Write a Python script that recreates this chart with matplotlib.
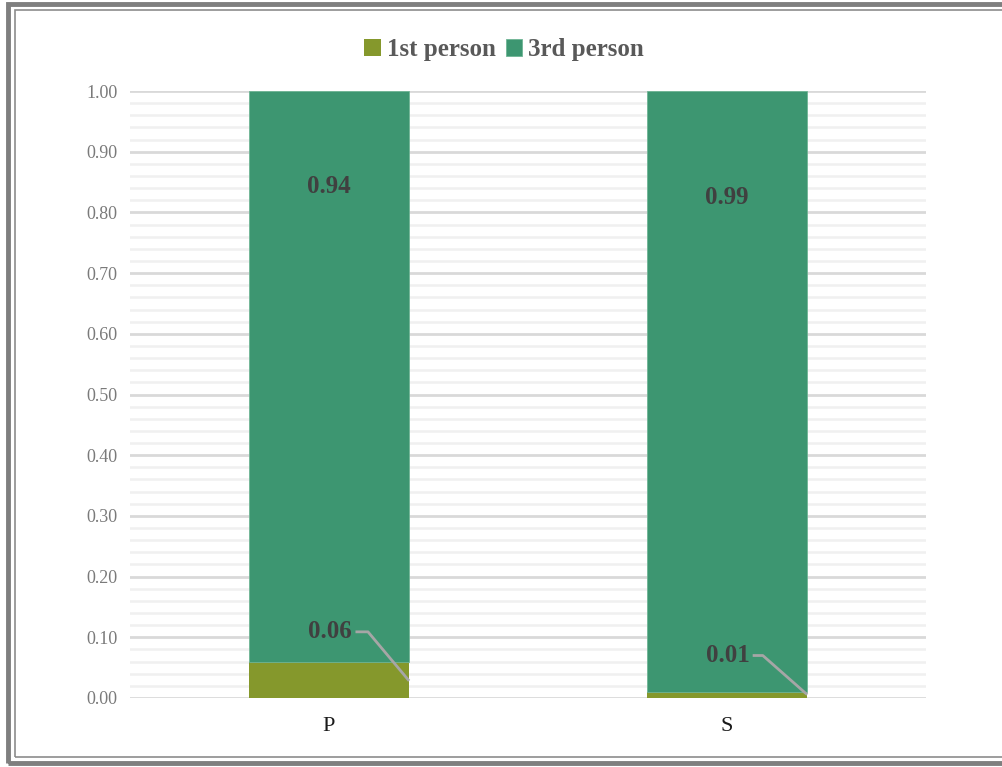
import numpy as np
import matplotlib.pyplot as plt
from matplotlib.patches import Rectangle

# Data
categories = ['P', 'S']
first_person = [0.06, 0.01]
third_person = [0.94, 0.99]
series_names = ['1st person', '3rd person']
colors = ['#85982c', '#3d9671']

plt.rcParams['font.family'] = ['Liberation Serif', 'DejaVu Serif']

fig = plt.figure(figsize=(10.02, 7.67), dpi=100)
fig.patch.set_facecolor('white')

# double grey frame around the chart area
fig.patches.append(Rectangle((8 / 1002, 4 / 767), 1.2, 759 / 767, transform=fig.transFigure,
                             fill=False, edgecolor='#7f7f7f', linewidth=3.5))
fig.patches.append(Rectangle((15 / 1002, 10 / 767), 1.2, 747 / 767, transform=fig.transFigure,
                             fill=False, edgecolor='#8c8c8c', linewidth=1.2))

ax = fig.add_axes([130 / 1002, 1 - 698 / 767, 796 / 1002, 607 / 767])
x = np.arange(len(categories))
width = 0.4
ax.bar(x, first_person, width, color=colors[0], label=series_names[0], zorder=3)
ax.bar(x, third_person, width, bottom=first_person, color=colors[1], label=series_names[1],
       edgecolor='#6fb595', linewidth=0.6, zorder=3)

ax.set_xlim(-0.5, 1.5)
ax.set_ylim(0, 1.0)
ax.set_yticks(np.arange(0, 1.01, 0.1))
ax.set_yticklabels([f'{v:.2f}' for v in np.arange(0, 1.01, 0.1)], fontsize=13, color='#7a7a7a')
ax.set_yticks(np.arange(0, 1.001, 0.02), minor=True)
ax.tick_params(axis='y', which='both', length=0, pad=9)
ax.set_xticks(x)
ax.set_xticklabels(categories, fontsize=16, color='#1a1a1a')
ax.tick_params(axis='x', length=0, pad=14)
ax.grid(axis='y', which='minor', color='#f0f0f0', linewidth=1.8, zorder=0)
ax.grid(axis='y', which='major', color='#d9d9d9', linewidth=2, zorder=1)
for s in ax.spines.values():
    s.set_visible(False)

# data labels
lab = dict(fontsize=18, fontweight='bold', color='#404040', va='center')
ax.text(x[0], 0.843, f'{third_person[0]:.2f}', ha='center', **lab)
ax.text(x[1], 0.825, f'{third_person[1]:.2f}', ha='center', **lab)
ax.text(0.056, 0.109, f'{first_person[0]:.2f}', ha='right', **lab)
ax.text(1.056, 0.070, f'{first_person[1]:.2f}', ha='right', **lab)
ax.plot([0.070, 0.098, 0.199], [0.109, 0.109, 0.030], color='#a6a6a6', lw=2, zorder=4, clip_on=False)
ax.plot([1.068, 1.090, 1.199], [0.070, 0.070, 0.007], color='#a6a6a6', lw=2, zorder=4, clip_on=False)

leg = ax.legend(loc='lower center', bbox_to_anchor=(0.47, 1.012), ncol=2, frameon=False,
                handlelength=0.65, handleheight=0.65, handletextpad=0.25, columnspacing=0.4,
                prop={'size': 18, 'weight': 'bold'})
for t in leg.get_texts():
    t.set_color('#595959')

plt.savefig('out.png', dpi=100)
